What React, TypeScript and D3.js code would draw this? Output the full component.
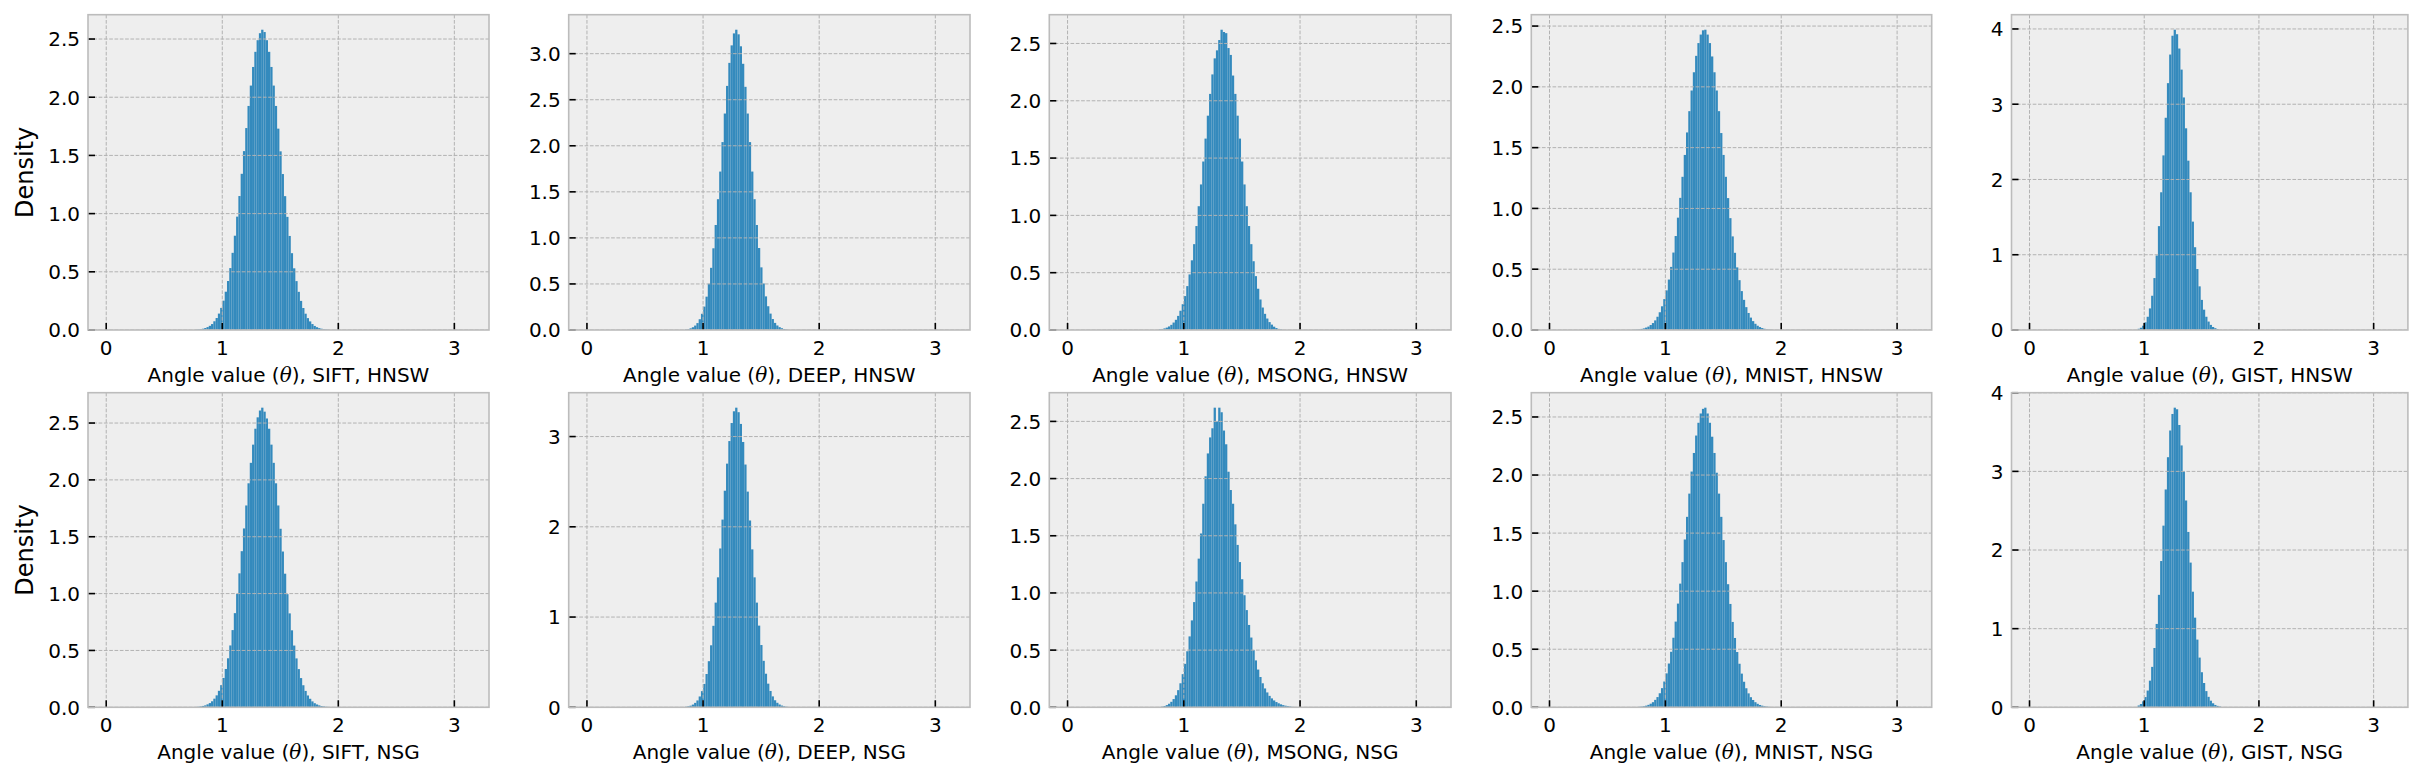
import React, { useEffect } from "react";
import * as d3 from "d3";

const WIDTH = 2428;
const HEIGHT = 782;
const BINS = 160; // histogram bins spanning [0, pi]
const RANGE_MAX = Math.PI;

const DATASETS = ["SIFT", "DEEP", "MSONG", "MNIST", "GIST"];
const METHODS = ["HNSW", "NSG"];
const X_TICKS = [0, 1, 2, 3];
const Y_TICKS_25 = [0, 0.5, 1, 1.5, 2, 2.5];
const Y_TICKS_30 = [0, 0.5, 1, 1.5, 2, 2.5, 3];
const Y_TICKS_I3 = [0, 1, 2, 3];
const Y_TICKS_I4 = [0, 1, 2, 3, 4];

// ---- histogram densities (first bin index, then one value per bin) ----
const SIFT_HNSW_START = 39;
const SIFT_HNSW = [0.003,0.0046,0.0075,0.011,0.017,0.025,0.036,0.051,0.075,0.103,0.141,0.190,0.252,0.329,0.421,0.532,0.663,0.810,0.974,1.151,1.342,1.537,1.735,1.925,2.10,2.26,2.39,2.49,2.55,2.58,2.56,2.49,2.39,2.26,2.10,1.925,1.73,1.535,1.34,1.15,0.972,0.808,0.66,0.53,0.42,0.328,0.25,0.189,0.14,0.102,0.074,0.051,0.035,0.024,0.016,0.011,0.007,0.0045,0.003];

const DEEP_HNSW_START = 43;
const DEEP_HNSW = [0.006,0.010,0.018,0.030,0.048,0.075,0.117,0.176,0.254,0.362,0.502,0.675,0.887,1.14,1.42,1.72,2.04,2.35,2.65,2.90,3.09,3.22,3.26,3.21,3.08,2.89,2.64,2.35,2.04,1.72,1.42,1.14,0.89,0.68,0.505,0.365,0.258,0.178,0.119,0.077,0.049,0.031,0.019,0.011,0.006];

const MSONG_HNSW_START = 40;
const MSONG_HNSW = [0.006,0.009,0.014,0.021,0.031,0.045,0.065,0.089,0.123,0.168,0.225,0.296,0.383,0.485,0.608,0.749,0.907,1.08,1.27,1.47,1.67,1.87,2.06,2.23,2.37,2.44,2.53,2.62,2.60,2.59,2.46,2.40,2.22,2.06,1.87,1.67,1.47,1.27,1.08,0.907,0.749,0.60,0.47,0.36,0.266,0.196,0.141,0.10,0.069,0.047,0.029,0.017,0.0095,0.005];

const MNIST_HNSW_START = 36;
const MNIST_HNSW = [0.0015,0.0025,0.004,0.006,0.009,0.013,0.020,0.028,0.041,0.057,0.079,0.109,0.146,0.195,0.254,0.326,0.415,0.519,0.637,0.773,0.924,1.087,1.26,1.44,1.625,1.80,1.97,2.12,2.255,2.36,2.43,2.465,2.47,2.43,2.36,2.25,2.12,1.97,1.80,1.62,1.44,1.26,1.085,0.92,0.77,0.635,0.515,0.41,0.32,0.248,0.188,0.14,0.102,0.073,0.051,0.035,0.024,0.016,0.010,0.0065,0.004,0.0025];

const GIST_HNSW_START = 48;
const GIST_HNSW = [0.016,0.030,0.057,0.102,0.176,0.287,0.455,0.69,0.99,1.38,1.83,2.32,2.82,3.28,3.66,3.91,3.99,3.93,3.74,3.46,3.09,2.68,2.25,1.83,1.44,1.10,0.81,0.58,0.40,0.27,0.176,0.112,0.068,0.040,0.024,0.012];

const SIFT_NSG_START = 39;
const SIFT_NSG = [0.003,0.0047,0.0076,0.012,0.017,0.026,0.037,0.053,0.076,0.105,0.145,0.195,0.258,0.337,0.431,0.544,0.679,0.828,0.997,1.178,1.373,1.573,1.775,1.97,2.15,2.31,2.45,2.55,2.61,2.635,2.60,2.54,2.45,2.31,2.15,1.97,1.775,1.57,1.37,1.175,0.995,0.826,0.677,0.543,0.43,0.336,0.257,0.194,0.144,0.104,0.075,0.052,0.036,0.025,0.017,0.011,0.0075,0.0046,0.003];

const DEEP_NSG_START = 43;
const DEEP_NSG = [0.006,0.011,0.018,0.030,0.049,0.076,0.120,0.179,0.259,0.369,0.511,0.687,0.903,1.16,1.44,1.76,2.08,2.40,2.70,2.95,3.15,3.28,3.32,3.27,3.14,2.94,2.69,2.39,2.07,1.75,1.44,1.16,0.905,0.69,0.515,0.372,0.262,0.181,0.121,0.078,0.05,0.031,0.019,0.011,0.006];

const MSONG_NSG_START = 40;
const MSONG_NSG = [0.003,0.006,0.011,0.019,0.031,0.048,0.072,0.105,0.15,0.21,0.29,0.38,0.49,0.62,0.76,0.92,1.10,1.30,1.52,1.78,2.02,2.22,2.36,2.44,2.62,2.50,2.62,2.58,2.42,2.30,2.06,1.90,1.78,1.60,1.42,1.27,1.12,0.98,0.85,0.72,0.61,0.50,0.41,0.33,0.265,0.21,0.165,0.13,0.10,0.078,0.06,0.046,0.035,0.026,0.019,0.014,0.010,0.007,0.004];

const MNIST_NSG_START = 39;
const MNIST_NSG = [0.004,0.006,0.009,0.014,0.021,0.031,0.044,0.064,0.088,0.121,0.165,0.222,0.292,0.377,0.478,0.599,0.738,0.893,1.065,1.25,1.445,1.64,1.84,2.03,2.19,2.34,2.45,2.53,2.57,2.58,2.53,2.45,2.33,2.19,2.02,1.84,1.64,1.44,1.25,1.06,0.89,0.735,0.597,0.476,0.375,0.29,0.22,0.164,0.12,0.087,0.063,0.044,0.03,0.02,0.014,0.009,0.006,0.004];

const GIST_NSG_START = 48;
const GIST_NSG = [0.023,0.042,0.076,0.130,0.213,0.339,0.514,0.754,1.06,1.43,1.86,2.31,2.77,3.18,3.52,3.73,3.81,3.79,3.59,3.33,3.00,2.63,2.23,1.84,1.47,1.14,0.861,0.632,0.446,0.309,0.206,0.133,0.084,0.051,0.030,0.018,0.010];

type PanelDef = {
  dataset: string;
  method: string;
  start: number;
  values: number[];
  yTicks: number[];
  decimals: boolean;
};

const PANELS: PanelDef[][] = [
  [
    { dataset: DATASETS[0], method: METHODS[0], start: SIFT_HNSW_START, values: SIFT_HNSW, yTicks: Y_TICKS_25, decimals: true },
    { dataset: DATASETS[1], method: METHODS[0], start: DEEP_HNSW_START, values: DEEP_HNSW, yTicks: Y_TICKS_30, decimals: true },
    { dataset: DATASETS[2], method: METHODS[0], start: MSONG_HNSW_START, values: MSONG_HNSW, yTicks: Y_TICKS_25, decimals: true },
    { dataset: DATASETS[3], method: METHODS[0], start: MNIST_HNSW_START, values: MNIST_HNSW, yTicks: Y_TICKS_25, decimals: true },
    { dataset: DATASETS[4], method: METHODS[0], start: GIST_HNSW_START, values: GIST_HNSW, yTicks: Y_TICKS_I4, decimals: false },
  ],
  [
    { dataset: DATASETS[0], method: METHODS[1], start: SIFT_NSG_START, values: SIFT_NSG, yTicks: Y_TICKS_25, decimals: true },
    { dataset: DATASETS[1], method: METHODS[1], start: DEEP_NSG_START, values: DEEP_NSG, yTicks: Y_TICKS_I3, decimals: false },
    { dataset: DATASETS[2], method: METHODS[1], start: MSONG_NSG_START, values: MSONG_NSG, yTicks: Y_TICKS_25, decimals: true },
    { dataset: DATASETS[3], method: METHODS[1], start: MNIST_NSG_START, values: MNIST_NSG, yTicks: Y_TICKS_25, decimals: true },
    { dataset: DATASETS[4], method: METHODS[1], start: GIST_NSG_START, values: GIST_NSG, yTicks: Y_TICKS_I4, decimals: false },
  ],
];

// ---- layout ----
const COL_LEFT = [88, 568.7, 1049.3, 1531.3, 2011.5];
const COL_RIGHT = [489, 970, 1451, 1931.7, 2407.9];
const ROW_TOP = [14.7, 392.7];
const ROW_BOTTOM = [330, 707.3];

const FONT = "DejaVu Sans, sans-serif";
const BAR_COLOR = "#348ABD";
const FACE = "#eeeeee";
const SPINE = "#bcbcbc";
const GRID = "#b2b2b2";

function Panel({ p, left, right, top, bottom, id, showYLabel }: { p: PanelDef; left: number; right: number; top: number; bottom: number; id: string; showYLabel: boolean }) {
  const x = d3.scaleLinear().domain([-0.05 * RANGE_MAX, 1.05 * RANGE_MAX]).range([left, right]);
  const yMax = (d3.max(p.values) as number) * 1.05;
  const y = d3.scaleLinear().domain([0, yMax]).range([bottom, top]);
  const w = RANGE_MAX / BINS;
  const fmt = p.decimals ? d3.format(".1f") : d3.format("d");
  const tickLen = 7;
  return (
    <g>
      <defs>
        <clipPath id={id}>
          <rect x={left} y={top} width={right - left} height={bottom - top} />
        </clipPath>
      </defs>
      <rect x={left} y={top} width={right - left} height={bottom - top} fill={FACE} />
      <g clipPath={`url(#${id})`}>
        {p.values.map((v, i) => {
          const k = p.start + i;
          const x0 = x(k * w);
          const x1 = x((k + 1) * w);
          const yv = y(v);
          return <rect key={i} x={x0} y={yv} width={x1 - x0} height={Math.max(0, bottom - yv)} fill={BAR_COLOR} />;
        })}
        {p.yTicks.map((t) => (
          <line key={"gy" + t} x1={left} x2={right} y1={y(t)} y2={y(t)} stroke={GRID} strokeWidth={1} strokeDasharray="3.7 1.6" />
        ))}
        {X_TICKS.map((t) => (
          <line key={"gx" + t} x1={x(t)} x2={x(t)} y1={top} y2={bottom} stroke={GRID} strokeWidth={1} strokeDasharray="3.7 1.6" />
        ))}
      </g>
      {X_TICKS.map((t) => (
        <g key={"tx" + t}>
          <line x1={x(t)} x2={x(t)} y1={bottom} y2={bottom - tickLen} stroke="#000" strokeWidth={1.6} />
          <text x={x(t)} y={bottom + 24.6} textAnchor="middle" fontFamily={FONT} fontSize={20} fill="#000">
            {d3.format("d")(t)}
          </text>
        </g>
      ))}
      {p.yTicks.map((t) => (
        <g key={"ty" + t}>
          <line x1={left} x2={left + tickLen} y1={y(t)} y2={y(t)} stroke="#000" strokeWidth={1.6} />
          <text x={left - 8} y={y(t) + 7.4} textAnchor="end" fontFamily={FONT} fontSize={20} fill="#000">
            {fmt(t)}
          </text>
        </g>
      ))}
      <rect x={left} y={top} width={right - left} height={bottom - top} fill="none" stroke={SPINE} strokeWidth={1.6} />
      <text x={(left + right) / 2} y={bottom + 51.5} textAnchor="middle" fontFamily={FONT} fontSize={20} fill="#000">
        {"Angle value ("}
        <tspan fontFamily="DejaVu Serif, serif" fontStyle="italic">θ</tspan>
        {`), ${p.dataset}, ${p.method}`}
      </text>
      {showYLabel && (
        <text
          transform={`translate(33, ${(top + bottom) / 2}) rotate(-90)`}
          textAnchor="middle"
          fontFamily={FONT}
          fontSize={24}
          fill="#000"
        >
          Density
        </text>
      )}
    </g>
  );
}

export default function App() {
  useEffect(() => {
    document.body.style.margin = "0";
  }, []);
  return (
    <svg
      width={WIDTH}
      height={HEIGHT}
      viewBox={`0 0 ${WIDTH} ${HEIGHT}`}
      style={{ position: "absolute", left: 0, top: 0, display: "block", background: "#fff" }}
    >
      <rect x={0} y={0} width={WIDTH} height={HEIGHT} fill="#fff" />
      {PANELS.map((row, r) =>
        row.map((p, c) => (
          <Panel
            key={`${r}-${c}`}
            id={`clip-${r}-${c}`}
            p={p}
            left={COL_LEFT[c]}
            right={COL_RIGHT[c]}
            top={ROW_TOP[r]}
            bottom={ROW_BOTTOM[r]}
            showYLabel={c === 0}
          />
        ))
      )}
    </svg>
  );
}
